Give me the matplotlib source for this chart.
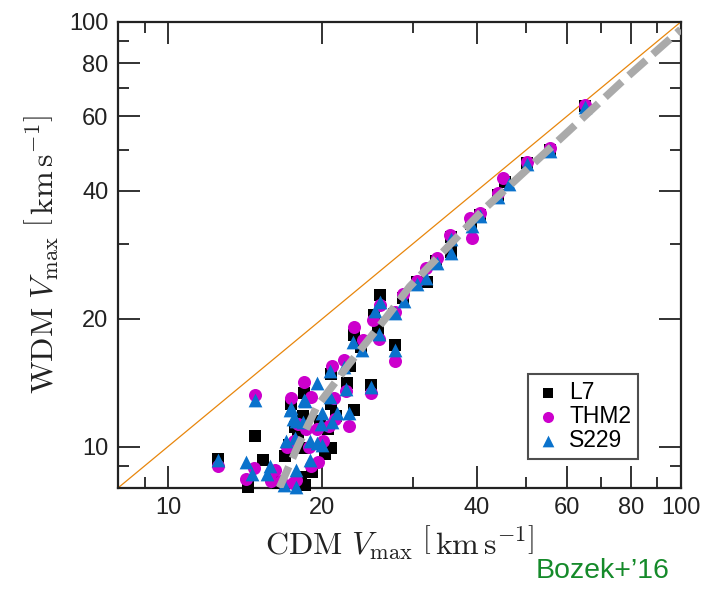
import matplotlib
matplotlib.use("Agg")
import matplotlib.pyplot as plt
from matplotlib.ticker import FixedLocator, NullFormatter

plt.rcParams['font.family'] = ['Liberation Sans', 'DejaVu Sans']
plt.rcParams['mathtext.fontset'] = 'cm'

# L7 (squares)
l7_x = [65.0, 55.6, 50.1, 45.5, 44.0, 39.0, 40.6, 35.7, 35.7, 33.3, 32.0, 30.6, 28.7, 25.9, 25.2, 27.6,
        25.7, 23.1, 23.8, 27.7, 22.6, 20.8, 18.4, 22.3, 24.9, 17.4, 18.3, 20.8, 23.1, 21.3, 20.5, 19.8,
        17.7, 14.8, 12.5, 14.3, 15.3, 16.9, 16.0, 17.2, 17.9, 18.3, 20.2, 20.8, 19.1, 18.2, 18.5, 16.4]
l7_y = [63.5, 50.0, 46.5, 42.0, 39.1, 33.5, 35.1, 31.2, 28.7, 27.3, 24.4, 24.4, 22.4, 22.8, 20.4, 20.5,
        18.8, 18.3, 17.2, 17.3, 15.5, 14.8, 13.4, 14.1, 14.0, 12.6, 11.8, 12.6, 12.2, 11.8, 11.0, 11.5,
        11.1, 10.6, 9.35, 8.05, 9.3, 9.5, 8.4, 10.1, 10.4, 9.9, 9.6, 9.9, 8.7, 8.5, 8.1, 8.2]

# THM2 (circles)
thm2_x = [65.0, 55.6, 50.1, 45.1, 44.0, 38.8, 39.1, 40.6, 35.5, 33.4, 31.9, 30.6, 28.7, 25.9, 25.1, 27.7,
          25.8, 23.1, 24.0, 27.7, 22.0, 20.9, 18.4, 22.2, 24.9, 17.35, 19.0, 21.1, 22.5, 21.2, 20.6, 19.5,
          18.6, 17.9, 14.8, 12.5, 14.2, 14.7, 16.2, 15.9, 17.1, 17.6, 18.8, 19.6, 20.1, 19.0, 17.8, 17.5, 16.6]
thm2_y = [63.8, 50.5, 46.8, 43.0, 39.5, 34.5, 31.0, 35.5, 31.5, 27.8, 26.3, 24.6, 22.9, 21.5, 19.9, 20.8,
          17.9, 19.1, 17.8, 15.9, 16.0, 15.5, 14.2, 13.5, 13.4, 13.0, 13.1, 13.0, 11.2, 11.6, 11.2, 11.0,
          11.0, 11.3, 13.2, 9.0, 8.4, 8.9, 8.8, 8.3, 10.0, 10.3, 10.0, 9.2, 10.3, 9.0, 8.35, 8.2, 8.3]

# S229 (triangles)
s229_x = [65.0, 55.6, 50.1, 46.3, 44.0, 39.1, 40.6, 35.7, 35.7, 33.4, 31.9, 30.6, 28.9, 25.9, 25.3, 27.7,
          25.8, 23.0, 23.9, 27.7, 22.0, 20.7, 19.5, 22.2, 24.9, 17.35, 18.5, 20.7, 22.5, 21.4, 20.9, 19.9,
          18.3, 17.8, 17.5, 14.8, 12.5, 14.2, 14.6, 15.8, 15.6, 17.0, 17.7, 18.9, 19.5, 20.0, 18.9, 17.8,
          17.8, 16.8, 18.4, 17.3, 20.0]
s229_y = [63.0, 49.8, 46.3, 41.5, 38.8, 33.0, 35.0, 30.9, 28.5, 27.0, 24.9, 24.2, 22.0, 21.9, 20.9, 20.6,
          18.4, 17.6, 16.9, 16.9, 15.4, 15.1, 14.1, 13.7, 13.8, 12.3, 12.8, 13.1, 12.0, 12.0, 11.4, 11.3,
          11.4, 11.5, 11.6, 12.9, 9.3, 9.2, 8.6, 9.0, 8.6, 10.3, 10.5, 10.3, 10.2, 10.1, 9.3, 8.8,
          8.05, 8.1, 12.9, 12.2, 12.0]

# fitted relation
fit_x = [16.5, 17.9, 19.5, 22.6, 26.7, 29.6, 41.2, 60.8, 77.4, 100.0]
fit_y = [8.0, 10.0, 12.4, 15.7, 20.2, 23.8, 36.1, 55.7, 73.0, 96.0]

ticks_major = [10, 20, 40, 60, 80, 100]
ticks_minor = [9, 30, 50, 70, 90]
lims = (8, 100)

fig = plt.figure(figsize=(7.14, 5.91), dpi=100)
ax = fig.add_axes([0.1657, 0.1748, 0.7877, 0.788])
ax.set_xscale('log')
ax.set_yscale('log')
ax.set_xlim(*lims)
ax.set_ylim(*lims)

ax.axline((10, 10), (100, 100), color='#e8860c', lw=0.9, zorder=1)
ax.scatter(l7_x, l7_y, marker='s', s=64, color='black', linewidths=0, clip_on=False, zorder=3, label='L7')
ax.scatter(thm2_x, thm2_y, marker='o', s=88, color='#cc00cc', linewidths=0, clip_on=False, zorder=4, label='THM2')
ax.scatter(s229_x, s229_y, marker='^', s=98, color='#0a72cc', linewidths=0, clip_on=False, zorder=5, label='S229')
ax.plot(fit_x, fit_y, color='#aaaaaa', lw=5.5, dashes=(3, 1.2), solid_capstyle='butt',
        dash_capstyle='butt', zorder=6)

for axis in (ax.xaxis, ax.yaxis):
    axis.set_major_locator(FixedLocator(ticks_major))
    axis.set_minor_locator(FixedLocator(ticks_minor))
    axis.set_minor_formatter(NullFormatter())
ax.set_xticklabels([str(t) for t in ticks_major])
ax.set_yticklabels([str(t) for t in ticks_major])
ax.tick_params(which='both', direction='in', top=True, right=True, colors='#222222',
               labelsize=17, width=1.3)
ax.tick_params(which='major', length=16, pad=7)
ax.tick_params(which='minor', length=8)
for sp in ax.spines.values():
    sp.set_linewidth(1.6)
    sp.set_color('#222222')

ax.set_xlabel(r'$\mathrm{CDM}\ V_{\mathrm{max}}\ \left[\,\mathrm{km\,s^{-1}}\right]$', fontsize=23,
              color='#222222', labelpad=3)
ax.set_ylabel(r'$\mathrm{WDM}\ V_{\mathrm{max}}\ \left[\,\mathrm{km\,s^{-1}}\right]$', fontsize=23,
              color='#222222', labelpad=6)

leg = ax.legend(loc='lower right', bbox_to_anchor=(0.924, 0.0616), borderaxespad=0, fontsize=16.5,
                frameon=True, fancybox=False, edgecolor='#222222', labelspacing=0.05,
                handletextpad=0.3, handlelength=1.2, borderpad=0.3, scatterpoints=1,
                markerscale=0.85)
leg.get_frame().set_linewidth(1.5)

fig.text(0.937, 0.022, "Bozek+\u201916", color='#158a2a', fontsize=20.5, ha='right', va='baseline')

fig.savefig('out.png', dpi=100)
